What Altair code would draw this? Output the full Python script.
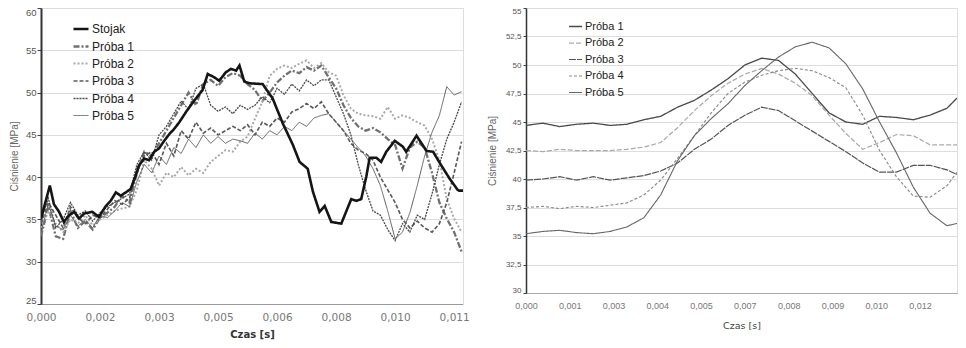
import json
import altair as alt
import pandas as pd

# ---------------- LEFT PANEL DATA ----------------
left_names = ["Stojak", "Próba 1", "Próba 2", "Próba 3", "Próba 4", "Próba 5"]
left_x_ticks = [0.0, 0.0016, 0.0032, 0.0048, 0.0064, 0.008, 0.0096, 0.0112]
left_x_labels = ["0,000", "0,002", "0,003", "0,005", "0,006", "0,008", "0,010", "0,011"]
left_y_ticks = [25, 30, 35, 40, 45, 50, 55, 60]

stojak_t = [0.0, 0.00024, 0.00035, 0.00049, 0.00062, 0.00076, 0.0009, 0.00103, 0.00117, 0.00139,
            0.00157, 0.00176, 0.00189, 0.00203, 0.00216, 0.0023, 0.00243, 0.00257, 0.00266, 0.0028,
            0.00293, 0.00307, 0.0032, 0.00334, 0.00348, 0.00361, 0.00375, 0.00393, 0.00406, 0.0042,
            0.00438, 0.00452, 0.0047, 0.00483, 0.00501, 0.00515, 0.00529, 0.00538, 0.00551, 0.00565,
            0.00601, 0.00628, 0.00656, 0.00683, 0.00701, 0.00723, 0.00737, 0.00755, 0.00769, 0.00787,
            0.00814, 0.00827, 0.00841, 0.00855, 0.00868, 0.00882, 0.00891, 0.00909, 0.00922, 0.00936,
            0.00959, 0.00981, 0.0099, 0.01018, 0.01045, 0.01063, 0.01085, 0.01108, 0.01131, 0.01144]
stojak_v = [35.1, 39.0, 36.8, 35.9, 34.7, 35.5, 35.9, 35.1, 35.7, 35.9,
            35.3, 36.6, 37.2, 38.2, 37.8, 38.2, 38.6, 40.2, 41.4, 42.2,
            42.0, 43.0, 43.4, 44.3, 45.1, 45.7, 46.5, 47.7, 48.5, 49.3,
            50.3, 52.2, 51.8, 51.4, 52.4, 52.8, 52.6, 53.2, 51.3, 51.1,
            51.0, 49.3, 46.3, 43.8, 41.8, 41.0, 38.3, 35.9, 36.6, 34.7,
            34.5, 35.9, 37.4, 37.2, 37.4, 40.1, 42.3, 42.3, 41.8, 43.0,
            44.3, 43.6, 43.0, 44.9, 43.1, 43.0, 41.4, 39.8, 38.4, 38.4]

probe_t = [0.0, 0.0002, 0.0004, 0.0006, 0.0008, 0.001, 0.0012, 0.0014, 0.0016, 0.0018,
           0.002, 0.0022, 0.0024, 0.0026, 0.0028, 0.003, 0.0032, 0.0034, 0.0036, 0.0038,
           0.004, 0.0042, 0.0044, 0.0046, 0.0048, 0.005, 0.0052, 0.0054, 0.0056, 0.0058,
           0.006, 0.0062, 0.0064, 0.0066, 0.0068, 0.007, 0.0072, 0.0074, 0.0076, 0.0078,
           0.008, 0.0082, 0.0084, 0.0086, 0.0088, 0.009, 0.0092, 0.0094, 0.0096, 0.0098,
           0.01, 0.0102, 0.0104, 0.0106, 0.0108, 0.011, 0.0112, 0.0114]
l_p1 = [33.0, 36.5, 33.0, 32.7, 36.0, 34.0, 34.8, 33.8, 35.2, 35.8,
        36.5, 37.8, 37.0, 40.5, 43.0, 42.5, 44.0, 45.5, 47.0, 48.5,
        50.0, 48.5, 51.0, 51.5, 50.8, 51.8, 52.3, 52.0, 51.0, 50.3,
        49.0, 50.0, 51.2, 52.0, 52.6, 52.3, 53.0, 52.6, 53.2, 51.8,
        50.5, 48.5, 47.0, 46.0, 45.5, 45.8, 45.3, 44.5, 43.8, 41.0,
        43.5, 44.2, 43.5, 40.5, 37.0, 35.1, 33.5, 31.2]
l_p2 = [34.0, 36.0, 34.5, 33.5, 35.0, 34.5, 35.5, 34.3, 35.0, 35.5,
        36.0, 36.3, 36.5, 38.5, 42.0, 41.0, 39.0, 40.5, 40.0, 41.2,
        40.2, 41.0, 40.5, 41.8, 42.5, 43.2, 43.0, 44.2, 44.8, 46.9,
        48.9, 52.0, 52.8, 53.2, 52.9, 53.4, 53.8, 52.9, 53.5, 52.4,
        52.0, 49.7, 48.1, 47.5, 47.3, 47.2, 46.9, 48.3, 46.9, 47.3,
        47.0, 46.5, 46.1, 44.5, 42.0, 37.4, 35.1, 33.5]
l_p3 = [34.5, 37.0, 35.5, 34.0, 36.5, 35.2, 34.5, 35.5, 35.2, 36.2,
        37.2, 36.8, 37.5, 41.0, 42.5, 43.0, 41.5, 44.0, 42.5, 45.5,
        44.5, 46.5, 45.2, 45.8, 45.0, 45.5, 46.0, 45.5, 46.2, 45.0,
        46.5, 46.0, 47.0, 46.5, 47.7, 48.1, 48.7, 48.1, 48.9, 47.5,
        46.5, 45.5, 44.0, 43.2, 42.8, 42.0, 40.0, 38.5, 37.0, 35.0,
        34.0, 34.8, 34.0, 33.5, 34.5, 37.0, 40.5, 44.2]
l_p4 = [35.0, 37.5, 34.0, 35.0, 37.0, 35.5, 36.0, 34.8, 35.8, 36.5,
        37.0, 37.5, 38.0, 41.5, 43.0, 42.0, 45.0, 46.0, 47.5, 49.0,
        48.0, 50.5, 51.0, 48.5, 47.8, 48.3, 47.5, 48.5, 48.0, 48.5,
        49.5, 48.8, 50.5, 49.8, 51.0, 50.2, 51.5, 50.8, 51.5, 51.5,
        49.5, 47.5, 45.0, 41.5, 38.5, 36.0, 35.5, 33.8, 32.5, 34.5,
        33.5, 35.5, 35.0, 38.0, 41.5, 44.5, 46.5, 48.9]
l_p5 = [33.5, 36.8, 34.2, 33.8, 35.5, 34.2, 35.0, 34.0, 35.5, 35.2,
        36.0, 37.0, 36.5, 39.5, 41.5, 40.5, 42.5, 41.5, 43.5, 42.8,
        44.5, 43.5, 45.0, 44.0, 44.8, 44.0, 44.5, 44.3, 44.0, 45.2,
        44.5, 45.5, 45.0, 46.0, 45.5, 46.5, 46.0, 47.0, 47.3, 47.5,
        46.5, 45.5, 44.5, 43.5, 42.5, 41.0, 39.0, 36.0, 32.7, 33.5,
        35.8, 39.0, 42.5, 45.3, 47.3, 50.7, 49.7, 50.1]

# ---------------- RIGHT PANEL DATA ----------------
right_names = ["Próba 1", "Próba 2", "Próba 3", "Próba 4", "Próba 5"]
right_x_ticks = [0.0, 0.0013, 0.0026, 0.0039, 0.0052, 0.0065, 0.0078, 0.0091, 0.0104, 0.0117]
right_x_labels = ["0,000", "0,001", "0,003", "0,004", "0,005", "0,007", "0,008", "0,009", "0,010", "0,012"]
right_y_ticks = [30, 32.5, 35, 37.5, 40, 42.5, 45, 47.5, 50, 52.5, 55]

r_t = [0.0, 0.0005, 0.001, 0.0015, 0.002, 0.0025, 0.003, 0.0035, 0.004, 0.0045,
       0.005, 0.0055, 0.006, 0.0065, 0.007, 0.0075, 0.008, 0.0085, 0.009, 0.0095,
       0.01, 0.0105, 0.011, 0.0115, 0.012, 0.0125, 0.0128]
r_p1 = [44.7, 44.9, 44.6, 44.8, 44.9, 44.7, 44.8, 45.2, 45.5, 46.3,
        46.9, 47.8, 48.8, 50.0, 50.6, 50.4, 49.2, 47.5, 45.8, 45.0,
        44.8, 45.5, 45.4, 45.2, 45.6, 46.2, 47.1]
r_p2 = [42.5, 42.4, 42.6, 42.5, 42.5, 42.5, 42.6, 42.8, 43.2, 44.5,
        46.0, 47.3, 48.4, 49.2, 49.7, 49.2, 48.4, 47.3, 45.6, 44.0,
        42.6, 43.2, 43.9, 43.8, 43.0, 43.0, 43.0]
r_p3 = [39.9, 40.0, 40.2, 39.9, 40.2, 39.9, 40.1, 40.3, 40.7, 41.4,
        42.6, 43.5, 44.7, 45.6, 46.3, 46.0, 45.1, 44.2, 43.3, 42.4,
        41.4, 40.6, 40.6, 41.2, 41.2, 40.8, 40.4]
r_p4 = [37.5, 37.6, 37.4, 37.6, 37.5, 37.7, 37.9, 38.6, 39.9, 41.8,
        43.8, 45.8, 47.5, 48.5, 49.1, 49.5, 49.7, 49.5, 48.9, 48.0,
        45.6, 42.5, 40.2, 38.5, 38.4, 39.4, 40.6]
r_p5 = [35.2, 35.4, 35.5, 35.3, 35.2, 35.4, 35.8, 36.6, 38.6, 41.6,
        43.8, 45.3, 46.6, 48.2, 49.5, 50.7, 51.6, 52.0, 51.5, 50.1,
        47.9, 45.0, 42.3, 39.3, 37.0, 35.9, 36.1]

# ---------------- TABLES ----------------
def long(names, ts, vals):
    rows = []
    for name, t, v in zip(names, ts, vals):
        for a, b in zip(t, v):
            rows.append({"series": name, "t": a, "v": b})
    return pd.DataFrame(rows)

# Stojak last so it is drawn on top
df_left = long(["Próba 1", "Próba 2", "Próba 3", "Próba 4", "Próba 5", "Stojak"],
               [probe_t] * 5 + [stojak_t],
               [l_p1, l_p2, l_p3, l_p4, l_p5, stojak_v])
df_right = long(right_names, [r_t] * 5, [r_p1, r_p2, r_p3, r_p4, r_p5])

LBL = "Liberation Sans"
TCK = "DejaVu Sans"

def lab_expr(labels, step):
    return json.dumps(labels) + "[round(datum.value/" + str(step) + ")]"

def make_legend(x, y, size, sym, rowpad):
    return alt.Legend(orient="none", legendX=x, legendY=y, title=None,
                      labelFont=LBL, labelFontSize=size, labelColor="#222",
                      symbolType="stroke", symbolSize=sym, rowPadding=rowpad,
                      labelOffset=2, padding=0)

# left styles
l_colors = ["#151515", "#707070", "#a8a8a8", "#5a5a5a", "#4a4a4a", "#606060"]
l_dash = [[1, 0], [6, 2, 2, 2], [2, 2], [4, 2], [2, 1], [1, 0]]
l_width = [2.6, 1.0, 1.1, 1.0, 1.0, 1.1]
lleg = make_legend(31, 12, 12, 225, 2.5)

left = alt.Chart(df_left).mark_line(clip=True).encode(
    x=alt.X("t:Q", scale=alt.Scale(domain=[0, 0.01144], nice=False, zero=False),
            axis=alt.Axis(values=left_x_ticks, labelExpr=lab_expr(left_x_labels, 0.0016),
                          title="Czas [s]", grid=False, ticks=False, labelFlush=False,
                          domain=True, domainColor="#555", domainDash=[1, 1],
                          labelFont=TCK, labelFontSize=10.5, labelColor="#777",
                          labelPadding=8, titleFont=TCK, titleFontSize=10,
                          titleFontWeight="bold", titleColor="#333", titlePadding=7)),
    y=alt.Y("v:Q", scale=alt.Scale(domain=[25, 60], nice=False, zero=False),
            axis=alt.Axis(values=left_y_ticks, format="d", title="Ciśnienie [MPa]",
                          grid=True, domain=True, domainColor="#333", domainWidth=2,
                          ticks=True, tickSize=4, tickColor="#444",
                          labelFlush=True, labelFlushOffset=1,
                          labelFont=LBL, labelFontSize=9.5, labelColor="#555", labelPadding=1,
                          titleFont=LBL, titleFontSize=10, titleFontWeight="normal",
                          titleColor="#666", titlePadding=6)),
    color=alt.Color("series:N", scale=alt.Scale(domain=left_names, range=l_colors), legend=lleg),
    strokeDash=alt.StrokeDash("series:N", scale=alt.Scale(domain=left_names, range=l_dash), legend=lleg),
    strokeWidth=alt.StrokeWidth("series:N", scale=alt.Scale(domain=left_names, range=l_width), legend=lleg),
).properties(width=422, height=296)

# right styles
r_colors = ["#4a4a4a", "#aaaaaa", "#555555", "#8a8a8a", "#666666"]
r_dash = [[1, 0], [5, 2], [7, 1], [3, 2], [1, 0]]
r_width = [1.3, 1.1, 1.2, 1.3, 1.2]
rleg = make_legend(42, 11, 11, 169, 3.5)

right = alt.Chart(df_right).mark_line(clip=True).encode(
    x=alt.X("t:Q", scale=alt.Scale(domain=[0, 0.0128], nice=False, zero=False),
            axis=alt.Axis(values=right_x_ticks, labelExpr=lab_expr(right_x_labels, 0.0013),
                          title="Czas [s]", grid=False, ticks=False, labelFlush=False,
                          domain=True, domainColor="#777", domainDash=[1, 1],
                          labelFont=LBL, labelFontSize=9, labelColor="#777",
                          labelPadding=8, titleFont=TCK, titleFontSize=9.5,
                          titleFontWeight="normal", titleColor="#444", titlePadding=10)),
    y=alt.Y("v:Q", scale=alt.Scale(domain=[30, 55], nice=False, zero=False),
            axis=alt.Axis(values=right_y_ticks, labelExpr="replace(toString(datum.value), '.', ',')",
                          title="Ciśnienie [MPa]",
                          grid=True, domain=True, domainColor="#333", domainWidth=1.5,
                          ticks=True, tickSize=3, tickColor="#444",
                          labelFlush=True, labelFlushOffset=1,
                          labelFont=LBL, labelFontSize=8, labelColor="#555", labelPadding=2,
                          titleFont=LBL, titleFontSize=10, titleFontWeight="normal",
                          titleColor="#666", titlePadding=8)),
    color=alt.Color("series:N", scale=alt.Scale(domain=right_names, range=r_colors), legend=rleg),
    strokeDash=alt.StrokeDash("series:N", scale=alt.Scale(domain=right_names, range=r_dash), legend=rleg),
    strokeWidth=alt.StrokeWidth("series:N", scale=alt.Scale(domain=right_names, range=r_width), legend=rleg),
).properties(width=431, height=285)

chart = alt.hconcat(left, right, spacing=16).resolve_scale(
    color="independent", strokeDash="independent", strokeWidth="independent"
).properties(padding={"left": 0, "top": -2, "right": 0, "bottom": 0}).configure_view(
    stroke="#b8b8b8", strokeWidth=1
).configure_axis(
    gridColor="#c4c4c4", gridDash=[3, 3], gridWidth=1
).configure(background="white")

chart.save("out.html", embed_options={"renderer": "svg", "actions": False})
